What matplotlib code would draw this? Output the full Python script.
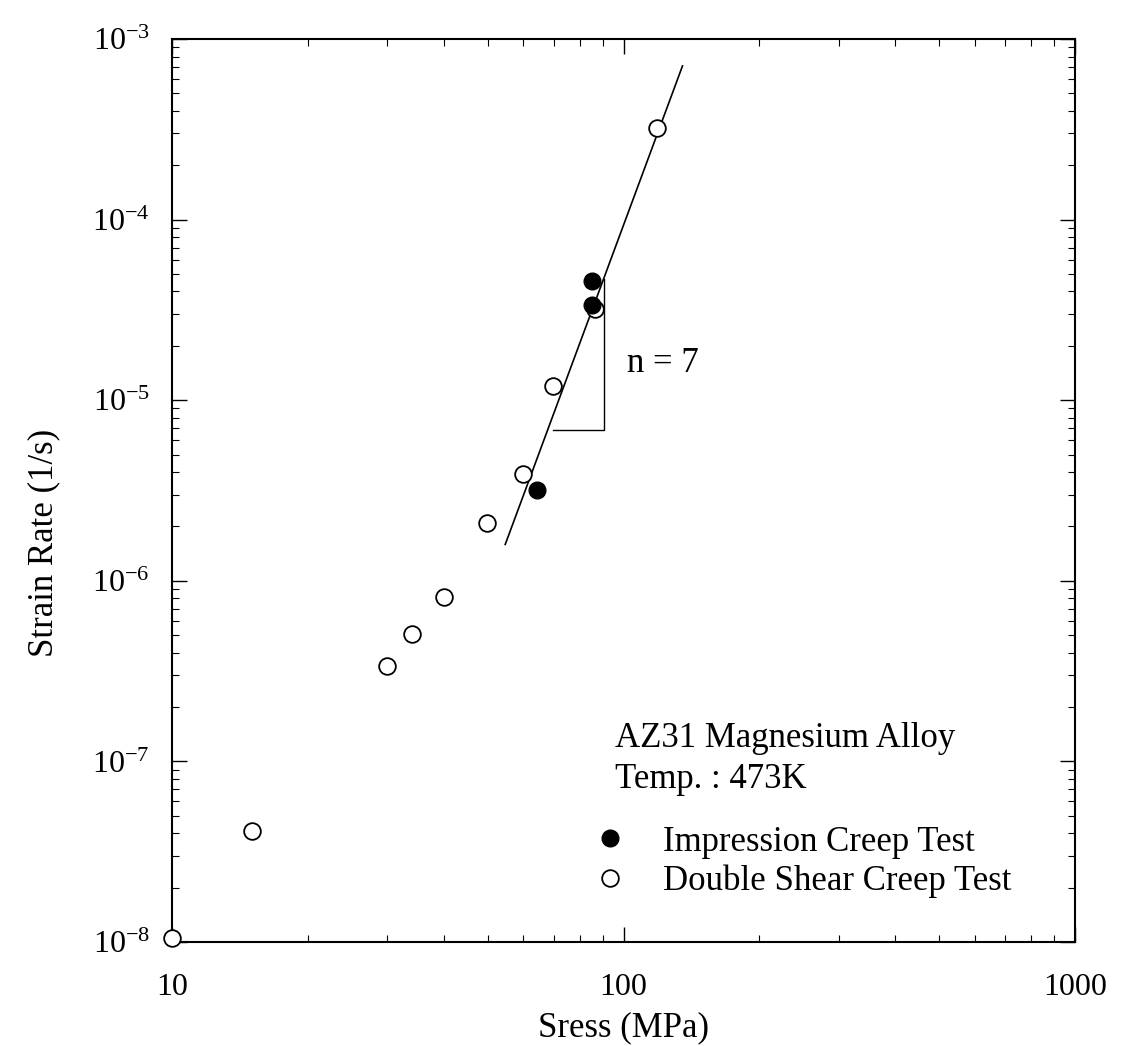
import numpy as np
import matplotlib
matplotlib.use('Agg')
import matplotlib.pyplot as plt
from matplotlib.lines import Line2D

plt.rcParams['font.family'] = ['Liberation Serif', 'DejaVu Serif']
plt.rcParams['mathtext.fontset'] = 'custom'
plt.rcParams['mathtext.rm'] = 'Liberation Serif'
plt.rcParams['mathtext.it'] = 'Liberation Serif:italic'

# double shear creep test (open)
ds_stress = [10, 15, 29.9, 34, 40, 49.8, 59.8, 69.7, 86.3, 118.8]
ds_rate = [1.05e-8, 4.1e-8, 3.36e-7, 5.06e-7, 8.1e-7, 2.08e-6, 3.88e-6, 1.2e-5, 3.2e-5, 3.2e-4]
# impression creep test (filled)
ic_stress = [85.3, 85.3, 64.3]
ic_rate = [4.6e-5, 3.38e-5, 3.2e-6]
# fitted line, n = 7
fit_stress = [54.7, 135.1]
fit_rate = [1.59e-6, 7.1e-4]
# slope triangle
tri_stress = [69.8, 90.3, 90.3]
tri_rate = [6.8e-6, 6.8e-6, 4.7e-5]

xticks = [10, 100, 1000]
xlabels = ['10', '100', '1000']
yticks = [1e-8, 1e-7, 1e-6, 1e-5, 1e-4, 1e-3]
ylabels = ['$10^{-8}$', '$10^{-7}$', '$10^{-6}$', '$10^{-5}$', '$10^{-4}$', '$10^{-3}$']

fig = plt.figure(figsize=(11.4, 10.46), dpi=100)
ax = fig.add_axes([0.1509, 0.0994, 0.7921, 0.8633])

ax.plot(fit_stress, fit_rate, color='black', lw=1.2)
ax.plot(tri_stress, tri_rate, color='black', lw=1.0)
ax.plot(ds_stress, ds_rate, 'o', ls='none', mfc='white', mec='black', mew=1.3, ms=12, clip_on=False, zorder=3)
ax.plot(ic_stress, ic_rate, 'o', ls='none', mfc='black', mec='black', ms=12, clip_on=False, zorder=4)

ax.set_xscale('log')
ax.set_yscale('log')
ax.set_xlim(10, 1000)
ax.set_ylim(1e-8, 1e-3)
ax.set_xticks(xticks, xlabels)
ax.set_yticks(yticks, ylabels)

ax.tick_params(which='both', direction='in', top=True, right=True)
ax.tick_params(which='major', length=11, width=1.0, labelsize=23)
ax.tick_params(axis='x', which='major', pad=22)
ax.tick_params(axis='y', which='major', pad=16)
ax.tick_params(which='minor', length=5, width=0.8)
for s in ax.spines.values():
    s.set_linewidth(1.5)

ax.set_xlabel('Sress (MPa)', fontsize=25, labelpad=7)
ax.set_ylabel('Strain Rate (1/s)', fontsize=25)
ax.yaxis.set_label_coords(-0.124, 0.442)

ax.text(101.6, 1.44e-5, 'n = 7', fontsize=25, va='baseline', ha='left')
ax.text(0.4906, 0.216, 'AZ31 Magnesium Alloy', transform=ax.transAxes,
        fontsize=25, va='baseline', ha='left')
ax.text(0.4906, 0.1705, 'Temp. : 473K', transform=ax.transAxes,
        fontsize=25, va='baseline', ha='left')

handles = [Line2D([], [], marker='o', ls='none', mfc='black', mec='black', ms=12),
           Line2D([], [], marker='o', ls='none', mfc='white', mec='black', mew=1.3, ms=12)]
ax.legend(handles, ['Impression Creep Test', 'Double Shear Creep Test'],
          loc='upper left', bbox_to_anchor=(0.4658, 0.129), frameon=False,
          fontsize=25, handlelength=1.0, handletextpad=1.03, labelspacing=0.18,
          borderpad=0, borderaxespad=0)

fig.savefig('out.png', dpi=100)
